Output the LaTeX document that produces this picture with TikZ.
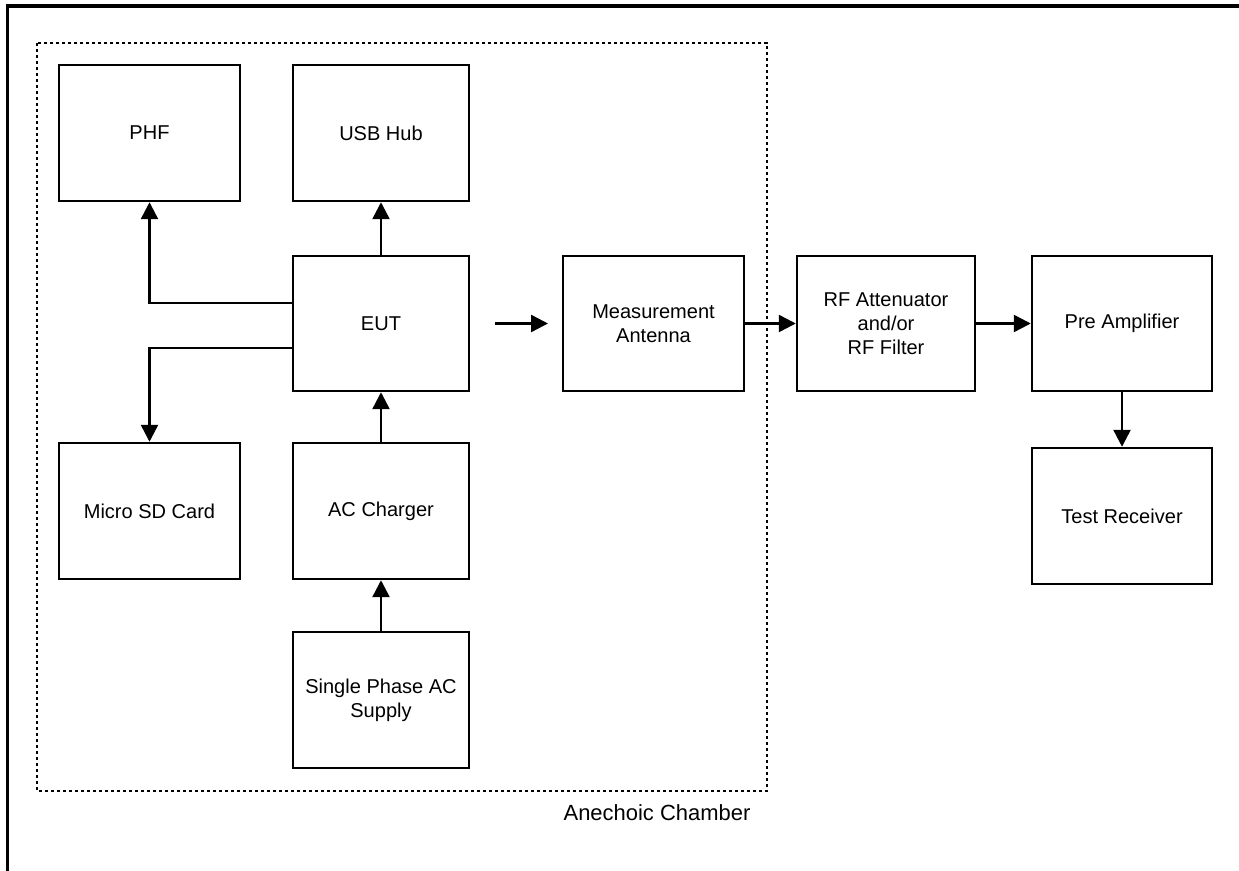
\documentclass[tikz,border=0pt]{standalone}
\usepackage{fontspec}
\setmainfont{Liberation Sans}
\usetikzlibrary{arrows.meta}
\begin{document}
\begin{tikzpicture}[x=0.02cm,y=-0.02cm,
  blk/.style={draw, line width=0.05cm, align=center, inner sep=0pt,
    font=\fontsize{11.4}{13.6}\selectfont, minimum height=2.72cm},
  wide/.style={minimum width=3.62cm},
  narrow/.style={minimum width=3.52cm},
  arr/.style={line width=0.05cm, -{Triangle[length=0.34cm,width=0.34cm]}},
  chamber/.style={line width=0.045cm, dash pattern=on 0.07cm off 0.05cm},
  frame/.style={line width=0.08cm}]
\useasboundingbox (0,0) rectangle (1239,871);
% outer frame
\draw[frame] (7.5,871) -- (7.5,6.5) -- (1239,6.5);
% chamber
\draw[chamber] (37,43) rectangle (767,791);
\node[font=\fontsize{12.5}{15}\selectfont] (lbl) at (657,813) {Anechoic Chamber};
% blocks
\node[blk,wide] (phf) at (149.5,133) {PHF};
\node[blk,narrow] (usb) at (381,133) {USB Hub};
\node[blk,narrow,minimum height=2.70cm] (eut) at (381,323.5) {EUT};
\node[blk,wide] (sd) at (149.5,511) {Micro SD Card};
\node[blk,narrow] (acc) at (381,511) {AC Charger};
\node[blk,narrow] (sup) at (381,700) {Single Phase AC\\Supply};
\node[blk,wide,minimum height=2.70cm] (ant) at (653.5,323.5) {Measurement\\Antenna};
\node[blk,minimum width=3.56cm,minimum height=2.70cm] (rf) at (886,323.5) {RF Attenuator\\and/or\\RF Filter};
\node[blk,minimum width=3.60cm,minimum height=2.70cm] (pre) at (1122,323.5) {Pre Amplifier};
\node[blk,minimum width=3.60cm] (tr) at (1122,516) {Test Receiver};
% connectors
\draw[arr] (eut.north) -- (usb.south);
\draw[arr] ([yshift=0.41cm]eut.west) -| (phf.south);
\draw[arr] ([yshift=-0.49cm]eut.west) -| (sd.north);
\draw[arr] (acc.north) -- (eut.south);
\draw[arr] (sup.north) -- (acc.south);
\coordinate (fa1) at (495,323.5);
\coordinate (fa2) at (548,323.5);
\draw[arr] (fa1) -- (fa2);
\draw[arr] (ant.east) -- (rf.west);
\draw[arr] (rf.east) -- (pre.west);
\draw[arr] (pre.south) -- (tr.north);
\end{tikzpicture}
\end{document}
